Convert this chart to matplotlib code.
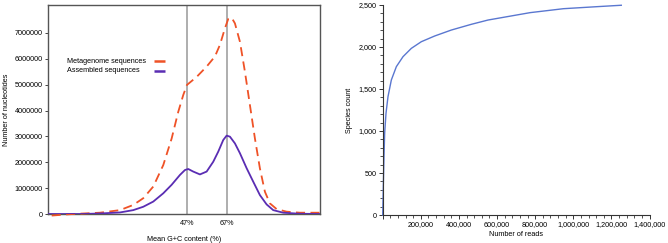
import matplotlib
matplotlib.use("Agg")
import matplotlib.pyplot as plt
from matplotlib.ticker import FuncFormatter, MultipleLocator
from matplotlib.lines import Line2D
import numpy as np

plt.rcParams['font.family'] = ['Liberation Sans', 'DejaVu Sans']

# ---- Left panel data (GC content distribution), values in millions ----
meta_x = [-20.5, -10, 3.65, 13.65, 20.3, 25.3, 30.3, 35.3, 39.5, 42.8, 45.3, 47.15, 52, 57, 61.15,
          63.65, 66.15, 67.8, 69.5, 71.15, 73.65, 76.15, 78.65, 81.15, 83.65, 86.15, 88.65, 92, 97,
          103.65, 108.65, 113.7]
meta_y = [-0.06, 0.0, 0.05, 0.15, 0.35, 0.61, 1.06, 1.89, 2.92, 3.95, 4.6, 4.99, 5.3, 5.7, 6.09,
          6.54, 7.18, 7.54, 7.59, 7.37, 6.66, 5.5, 4.21, 2.92, 1.76, 0.86, 0.41, 0.19, 0.09,
          0.05, 0.05, 0.05]
asm_x = [-22.2, -5, 3.65, 13.65, 20.3, 25.3, 30.3, 35.3, 39.5, 43.65, 46.15, 47.8, 50.3, 53.65, 57,
         60.3, 62.8, 65.3, 67, 68.65, 71.15, 73.65, 77, 80.3, 83.65, 87, 90.3, 95.3, 103.65, 113.7]
asm_y = [0.0, 0.0, 0.02, 0.06, 0.15, 0.28, 0.48, 0.8, 1.13, 1.51, 1.7, 1.74, 1.64, 1.53, 1.64,
         2.02, 2.41, 2.86, 3.03, 2.99, 2.73, 2.35, 1.77, 1.25, 0.73, 0.37, 0.15, 0.05, 0.01, 0.0]
gc_marks = [47, 67]
gc_mark_labels = ['47%', '67%']
nuc_ticks = [0, 1000000, 2000000, 3000000, 4000000, 5000000, 6000000, 7000000]
series_names = ['Metagenome sequences', 'Assembled sequences']

# ---- Right panel data (rarefaction) ----
reads = [0, 3100, 6800, 10300, 17300, 27800, 45300, 71600, 106600, 150300, 202600, 272800,
         360200, 465000, 552600, 773500, 948500, 1123500, 1252000]
species = [0, 337, 694, 972, 1210, 1409, 1607, 1766, 1885, 1984, 2063, 2131,
           2202, 2270, 2321, 2409, 2456, 2480, 2497]

W, H = 668, 243
fig = plt.figure(figsize=(W / 100, H / 100), dpi=100)

def ax_rect(x0, y0, x1, y1):
    return [x0 / W, 1 - y1 / H, (x1 - x0) / W, (y1 - y0) / H]

fs = 5.2
red = '#ef5227'
purple = '#5a2db3'
blue = '#5a77d0'
dash = (0, (5, 3))

ax1 = fig.add_axes(ax_rect(48.3, 5, 320, 214))
ax1.set_xlim(-22.2, 113.7)
ax1.set_ylim(0, 8.08e6)
for gx in gc_marks:
    ax1.axvline(gx, color='#999999', lw=1.1, zorder=1)
ax1.plot(meta_x, np.array(meta_y) * 1e6, color=red, lw=1.3, ls=dash,
         zorder=3, clip_on=False, solid_joinstyle='round', dash_joinstyle='round')
ax1.plot(asm_x, np.array(asm_y) * 1e6, color=purple, lw=1.3, zorder=3,
         solid_joinstyle='round')
ax1.set_yticks(nuc_ticks)
ax1.set_yticklabels([str(v) for v in nuc_ticks])
ax1.set_xticks(gc_marks)
ax1.set_xticklabels(gc_mark_labels)
ax1.tick_params(axis='x', length=0, pad=4, labelsize=fs)
ax1.tick_params(axis='y', length=2.5, width=0.7, pad=1.5, labelsize=fs, color='#444444')
for s in ax1.spines.values():
    s.set_color('#555555')
    s.set_linewidth(1.0)
ax1.set_xlabel('Mean G+C content (%)', fontsize=fs, labelpad=7)
ax1.set_ylabel('Number of nucleotides', fontsize=fs, labelpad=3)

# manual legend: left-aligned texts, short handles in a column on the right
leg_rows = [(61, red), (71, purple)]
for (py, col), name in zip(leg_rows, series_names):
    fig.text(67 / W, 1 - py / H, name, fontsize=fs, ha='left', va='center')
    fig.add_artist(Line2D([154 / W, 165 / W], [1 - py / H, 1 - py / H], color=col,
                          lw=1.8, solid_capstyle='butt'))

ax2 = fig.add_axes(ax_rect(382.7, 5, 649.5, 215))
ax2.plot(reads, species, color=blue, lw=1.0, clip_on=False, solid_joinstyle='round')
ax2.set_xlim(0, 1400000)
ax2.set_ylim(0, 2500)
ax2.xaxis.set_major_locator(MultipleLocator(200000))
ax2.xaxis.set_minor_locator(MultipleLocator(40000))
ax2.yaxis.set_major_locator(MultipleLocator(500))
ax2.yaxis.set_minor_locator(MultipleLocator(100))
ax2.xaxis.set_major_formatter(FuncFormatter(lambda v, p: '' if v == 0 else f'{int(v):,}'))
ax2.yaxis.set_major_formatter(FuncFormatter(lambda v, p: f'{int(v):,}'))
ax2.tick_params(which='major', length=3, width=0.7, labelsize=fs, pad=1.5, color='#333333')
ax2.tick_params(which='minor', length=2, width=0.6, color='#333333')
for s in ['top', 'right']:
    ax2.spines[s].set_visible(False)
for s in ['left', 'bottom']:
    ax2.spines[s].set_color('#333333')
    ax2.spines[s].set_linewidth(0.8)
ax2.set_xlabel('Number of reads', fontsize=fs, labelpad=2)
ax2.set_ylabel('Species count', fontsize=fs, labelpad=4)

fig.savefig('out.png', dpi=100)
